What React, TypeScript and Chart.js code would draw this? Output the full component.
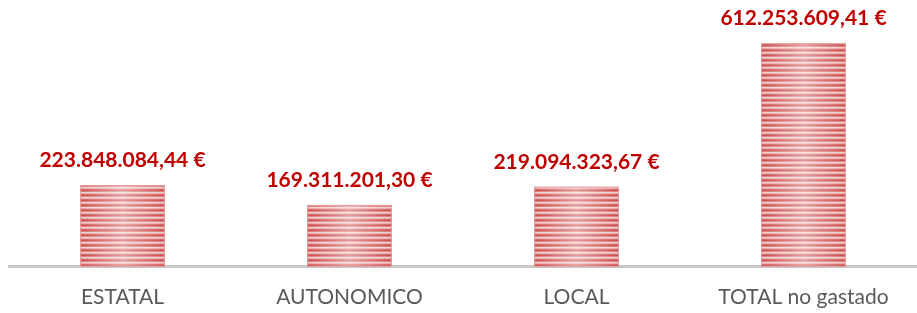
import React, { useEffect, useRef } from "react";
import { Chart, registerables } from "chart.js";

Chart.register(...registerables);

const categories = ["ESTATAL", "AUTONOMICO", "LOCAL", "TOTAL no gastado"];
const values = [223848084.44, 169311201.3, 219094323.67, 612253609.41];

function formatEuro(v: number): string {
  const [intPart, dec] = v.toFixed(2).split(".");
  const withDots = intPart.replace(/\B(?=(\d{3})+(?!\d))/g, ".");
  return `${withDots},${dec} €`;
}

function makePattern(): CanvasPattern | string {
  const c = document.createElement("canvas");
  c.width = 4;
  c.height = 5;
  const g = c.getContext("2d");
  if (!g) return "#d46a6a";
  const rows = ["#c94b4b", "#dc7b7b", "#f3cccc", "#e9a5a5", "#d66565"];
  rows.forEach((col, i) => {
    g.fillStyle = col;
    g.fillRect(0, i, 4, 1);
  });
  const p = g.createPattern(c, "repeat");
  return p || "#d46a6a";
}

const overlayPlugin = {
  id: "overlayAndLabels",
  afterDatasetsDraw(chart: any) {
    const ctx = chart.ctx;
    const meta = chart.getDatasetMeta(0);
    meta.data.forEach((bar: any, i: number) => {
      const { x, y, base, width } = bar.getProps(["x", "y", "base", "width"], true);
      const left = x - width / 2;
      const grad = ctx.createLinearGradient(left, 0, left + width, 0);
      grad.addColorStop(0, "rgba(255,255,255,0)");
      grad.addColorStop(0.5, "rgba(255,255,255,0.45)");
      grad.addColorStop(1, "rgba(255,255,255,0)");
      ctx.save();
      ctx.fillStyle = grad;
      ctx.fillRect(left, y, width, base - y);
      ctx.strokeStyle = "rgba(230,160,160,0.9)";
      ctx.lineWidth = 1;
      ctx.strokeRect(left + 0.5, y + 0.5, width - 1, base - y - 1);
      ctx.fillStyle = "#c00000";
      ctx.font = "bold 21px Lato, 'Open Sans', sans-serif";
      ctx.textAlign = "center";
      ctx.textBaseline = "alphabetic";
      ctx.fillText(formatEuro(values[i]), x, y - 18);
      ctx.restore();
    });
  },
};

export default function App() {
  const ref = useRef<HTMLCanvasElement | null>(null);
  useEffect(() => {
    if (!ref.current) return;
    const chart = new Chart(ref.current, {
      type: "bar",
      data: {
        labels: categories,
        datasets: [
          {
            data: values,
            backgroundColor: makePattern() as any,
            borderWidth: 0,
            categoryPercentage: 1,
            barPercentage: 0.373,
          },
        ],
      },
      options: {
        animation: false,
        responsive: true,
        maintainAspectRatio: false,
        layout: { padding: { left: 9, right: 0, top: 0, bottom: -15 } },
        plugins: {
          legend: { display: false },
          tooltip: { enabled: false },
        },
        scales: {
          x: {
            grid: { display: false, drawTicks: false },
            border: { display: true, color: "#c8c8c8", width: 3 },
            ticks: {
              color: "#595959",
              padding: 18,
              font: { family: "Lato, 'Open Sans', sans-serif", size: 21 },
            },
          },
          y: {
            display: false,
            min: 0,
            max: 730000000,
          },
        },
      },
      plugins: [overlayPlugin],
    });
    return () => chart.destroy();
  }, []);
  return (
    <div style={{ position: "absolute", left: 0, top: 0, width: 917, height: 313 }}>
      <canvas ref={ref} />
    </div>
  );
}
